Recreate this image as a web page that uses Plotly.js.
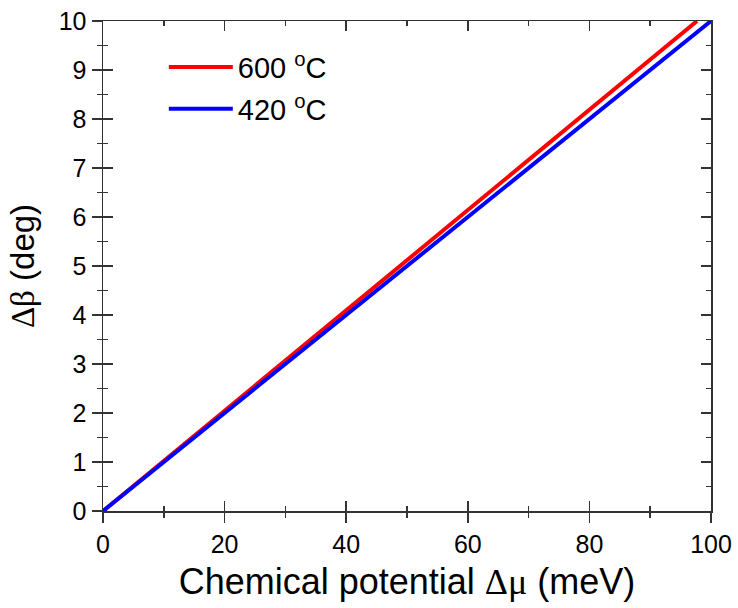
<!DOCTYPE html>
<html>
<head>
<meta charset="utf-8">
<script src="https://cdn.plot.ly/plotly-3.0.1.min.js"></script>
<style>html,body{margin:0;padding:0;background:#fff;}#chart{width:738px;height:608px;}</style>
</head>
<body>
<div id="chart"></div>
<script>
// Data
const mu600 = [0, 20, 40, 60, 80, 97.7];
const beta600 = [0, 2.05, 4.1, 6.14, 8.19, 10];
const mu420 = [0, 20, 40, 60, 80, 100];
const beta420 = [0, 2.0, 4.0, 6.0, 8.0, 10];
const seriesNames = ['600 <sup>o</sup>C', '420 <sup>o</sup>C'];
const xTickVals = [0, 20, 40, 60, 80, 100];
const yTickVals = [0, 1, 2, 3, 4, 5, 6, 7, 8, 9, 10];

const font = 'Liberation Sans, Arial, sans-serif';
const greekSpan = (t) => '<span style="font-family:\'Liberation Serif\',serif">' + t + '</span>';
const axisColor = '#333';

const traces = [
  {x: mu600, y: beta600, mode: 'lines', name: seriesNames[0], legendgroup: 'a', line: {color: '#ff0000', width: 4}},
  {x: mu420, y: beta420, mode: 'lines', name: seriesNames[1], legendgroup: 'b', line: {color: '#0000ff', width: 4}},
  {x: [], y: [], xaxis: 'x2', yaxis: 'y2', showlegend: false, hoverinfo: 'skip', mode: 'lines'}
];

const common = {showgrid: false, zeroline: false, showline: true, linecolor: axisColor, linewidth: 1.5,
  tickcolor: axisColor, tickwidth: 1.5, ticklen: 10};

const layout = {
  width: 738, height: 608,
  margin: {l: 103, r: 27, t: 21, b: 97},
  paper_bgcolor: '#fff', plot_bgcolor: '#fff',
  font: {family: font, color: '#000', size: 25},
  showlegend: true,
  legend: {x: 0.1, y: 0.958, xanchor: 'left', yanchor: 'top', bgcolor: 'rgba(0,0,0,0)',
    font: {family: font, size: 29, color: '#000'}, itemwidth: 64, traceorder: 'grouped', tracegroupgap: 1},
  xaxis: Object.assign({}, common, {
    range: [0, 100], tickvals: xTickVals, ticks: 'outside', mirror: true,
    tickfont: {family: font, size: 25, color: '#000'},
    minor: {dtick: 10, ticks: 'outside', ticklen: 5, tickcolor: axisColor, tickwidth: 1.5},
    title: {text: 'Chemical potential ' + greekSpan('Δμ') + ' (meV)', font: {family: font, size: 36, color: '#000'}, standoff: 12}
  }),
  yaxis: Object.assign({}, common, {
    range: [0, 10], tickvals: yTickVals, ticks: 'outside', mirror: true,
    tickfont: {family: font, size: 25, color: '#000'},
    minor: {dtick: 0.5, ticks: 'outside', ticklen: 5, tickcolor: axisColor, tickwidth: 1.5},
    title: {text: greekSpan('Δβ') + ' (deg)', font: {family: font, size: 33, color: '#000'}, standoff: 14}
  }),
  xaxis2: Object.assign({}, common, {
    overlaying: 'x', anchor: 'y2', side: 'bottom', range: [0, 100], tickvals: xTickVals,
    ticks: 'inside', mirror: 'ticks', showticklabels: false,
    minor: {dtick: 10, ticks: 'inside', ticklen: 5, tickcolor: axisColor, tickwidth: 1.5}
  }),
  yaxis2: Object.assign({}, common, {
    overlaying: 'y', anchor: 'x2', side: 'left', range: [0, 10], tickvals: yTickVals,
    ticks: 'inside', mirror: 'ticks', showticklabels: false,
    minor: {dtick: 0.5, ticks: 'inside', ticklen: 5, tickcolor: axisColor, tickwidth: 1.5}
  })
};

Plotly.newPlot('chart', traces, layout, {displayModeBar: false, staticPlot: true});
</script>
</body>
</html>
